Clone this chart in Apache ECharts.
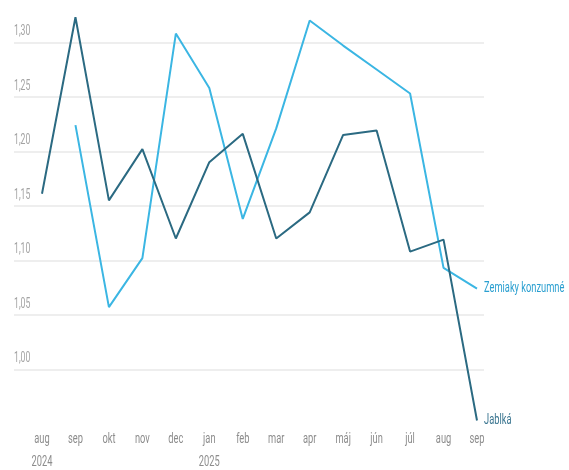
<!DOCTYPE html>
<html>
<head>
<meta charset="utf-8">
<script src="https://cdn.jsdelivr.net/npm/echarts@6/dist/echarts.min.js"></script>
<style>
  html, body { margin: 0; padding: 0; background: #fff; }
  #chart { width: 569px; height: 470px; }
</style>
</head>
<body>
<div id="chart"></div>
<script>
// Monthly average prices (EUR/kg), Aug 2024 – Sep 2025
const months = ['aug\n2024', 'sep', 'okt', 'nov', 'dec', 'jan\n2025', 'feb', 'mar', 'apr', 'máj', 'jún', 'júl', 'aug', 'sep'];
const jablka = [1.161, 1.323, 1.155, 1.202, 1.120, 1.190, 1.216, 1.120, 1.144, 1.215, 1.219, 1.108, 1.119, 0.953];
const zemiaky = [null, 1.224, 1.057, 1.102, 1.308, 1.258, 1.138, 1.221, 1.320, 1.297, 1.275, 1.253, 1.093, 1.074];
const yTicks = [1.00, 1.05, 1.10, 1.15, 1.20, 1.25, 1.30];

// Narrow typeface: draw canvas text horizontally condensed
const SX = 0.62;
(function () {
  const P = CanvasRenderingContext2D.prototype;
  const fill = P.fillText, measure = P.measureText;
  P.fillText = function (t, x, y, maxW) {
    this.save();
    this.translate(x, y);
    this.scale(SX, 1);
    fill.call(this, t, 0, 0);
    this.restore();
  };
  P.measureText = function (t) {
    const m = measure.call(this, t);
    return {
      width: m.width * SX,
      actualBoundingBoxLeft: m.actualBoundingBoxLeft * SX,
      actualBoundingBoxRight: m.actualBoundingBoxRight * SX,
      actualBoundingBoxAscent: m.actualBoundingBoxAscent,
      actualBoundingBoxDescent: m.actualBoundingBoxDescent,
      fontBoundingBoxAscent: m.fontBoundingBoxAscent,
      fontBoundingBoxDescent: m.fontBoundingBoxDescent
    };
  };
})();

const yMin = 0.95, yMax = 1.33, yStep = 0.05;
const FONT = 'Roboto, sans-serif';
const darkBlue = '#2b6a82';
const lightBlue = '#3bb6e3';

// split line colours: hide the lines at the axis ends, show the labelled ticks
const tickCount = Math.round((yMax - yMin) / yStep) + 2;
const splitColors = [];
for (let i = 0; i < tickCount; i++) {
  const v = +(yMin + i * yStep).toFixed(2);
  splitColors.push(yTicks.some(t => Math.abs(t - v) < 1e-6) ? '#e8e8e8' : 'rgba(0,0,0,0)');
}

const chart = echarts.init(document.getElementById('chart'), null, { renderer: 'canvas' });
chart.setOption({
  animation: false,
  grid: [
    { left: 14, right: 85, top: 9.6, bottom: 46.2, outerBoundsMode: 'none', containLabel: false },
    { left: 42, right: 92, top: 9.6, bottom: 46.2, outerBoundsMode: 'none', containLabel: false }
  ],
  xAxis: [
    { gridIndex: 0, type: 'value', min: 0, max: 1, show: false },
    {
      gridIndex: 1, type: 'category', data: months, boundaryGap: false,
      axisLine: { show: false }, axisTick: { show: false }, splitLine: { show: false },
      axisLabel: { color: '#8c8c8c', fontFamily: FONT, fontSize: 15, margin: 4, lineHeight: 23, interval: 0 }
    }
  ],
  yAxis: [
    {
      gridIndex: 0, type: 'value', min: yMin, max: yMax, interval: yStep,
      axisLine: { show: false }, axisTick: { show: false },
      splitLine: { show: true, lineStyle: { color: splitColors, width: 1.5 } },
      axisLabel: {
        inside: true, margin: 0, verticalAlign: 'bottom', padding: [0, 0, 6, 0],
        showMinLabel: false, showMaxLabel: false,
        color: '#a3a3a3', fontFamily: FONT, fontSize: 14,
        formatter: v => yTicks.some(t => Math.abs(t - v) < 1e-6) ? v.toFixed(2).replace('.', ',') : ''
      }
    },
    { gridIndex: 1, type: 'value', min: yMin, max: yMax, show: false, splitLine: { show: false } }
  ],
  series: [
    {
      name: 'Zemiaky konzumné', type: 'line', xAxisIndex: 1, yAxisIndex: 1,
      data: zemiaky, symbol: 'none', connectNulls: false,
      lineStyle: { color: lightBlue, width: 2 }, itemStyle: { color: lightBlue },
      endLabel: { show: true, formatter: '{a}', color: '#2a9fd0', fontFamily: FONT, fontSize: 15, distance: 7 }
    },
    {
      name: 'Jablká', type: 'line', xAxisIndex: 1, yAxisIndex: 1,
      data: jablka, symbol: 'none',
      lineStyle: { color: darkBlue, width: 2 }, itemStyle: { color: darkBlue },
      endLabel: { show: true, formatter: '{a}', color: '#3a7590', fontFamily: FONT, fontSize: 15, distance: 7 }
    }
  ]
});
</script>
</body>
</html>
